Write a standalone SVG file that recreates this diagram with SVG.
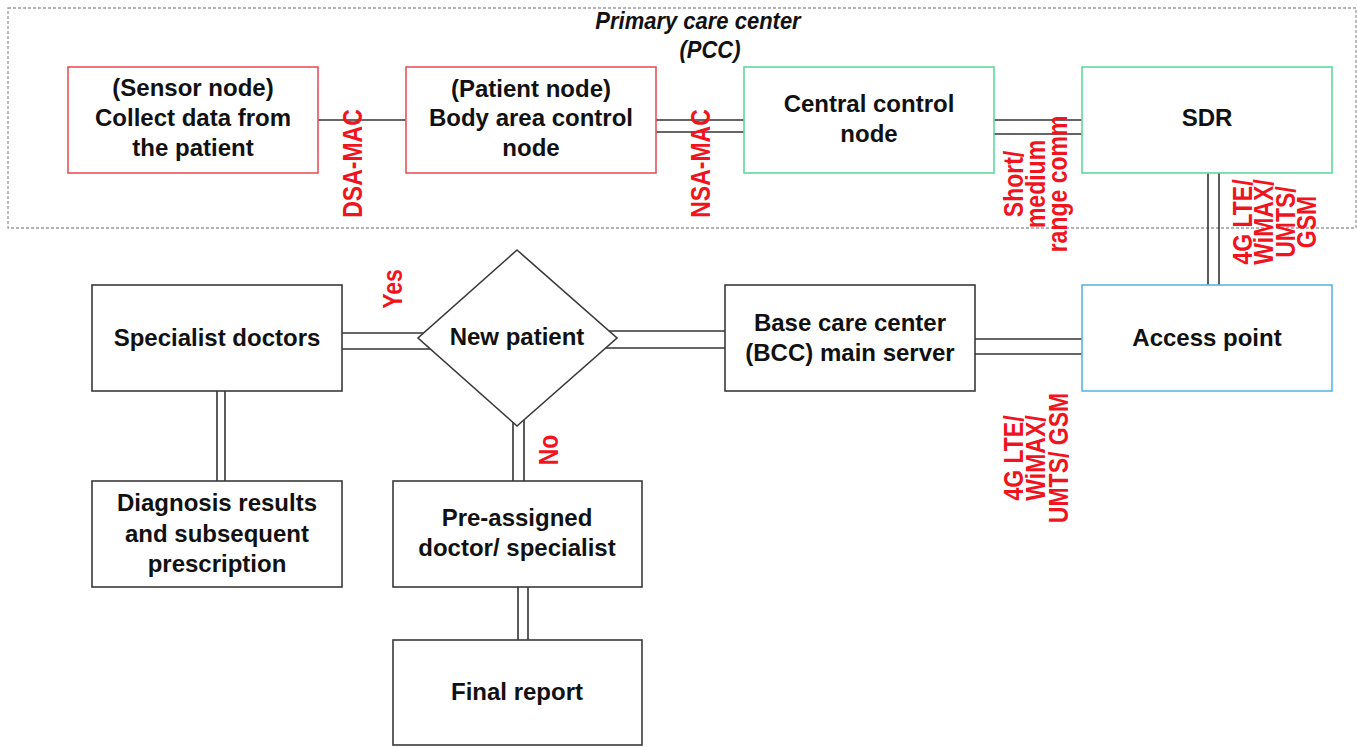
<svg xmlns="http://www.w3.org/2000/svg" width="1357" height="747" viewBox="0 0 1357 747">
<style>
.box{fill:#fff;stroke-width:1.6}
.red{stroke:#e8535a}
.green{stroke:#5fd99b}
.blue{stroke:#5ab6e8}
.black{stroke:#3a3a3a}
.t{font-family:"Liberation Sans",Arial,sans-serif;font-weight:bold;font-size:24px;fill:#111;text-anchor:middle}
.lbl{font-family:"Liberation Sans",Arial,sans-serif;font-weight:bold;font-size:23px;fill:#f0141e;text-anchor:middle}
.title{font-family:"Liberation Sans",Arial,sans-serif;font-weight:bold;font-style:italic;font-size:22px;fill:#111;text-anchor:middle}
.c{stroke:#333;stroke-width:1.6;fill:none}
</style>
<rect width="1357" height="747" fill="#fff"/>
<rect id="pcc" x="8" y="8" width="1348" height="220" fill="none" stroke="#9a9a9a" stroke-width="1.3" stroke-dasharray="3 2"/>
<text class="title" transform="translate(698,29) scale(1,1.1)">Primary care center</text>
<text class="title" transform="translate(710,58) scale(1,1.1)">(PCC)</text>

<g id="connectors">
<line class="c" x1="318" y1="120" x2="406" y2="120"/>
<line class="c" x1="656" y1="120" x2="744" y2="120"/>
<line class="c" x1="656" y1="132" x2="744" y2="132"/>
<line class="c" x1="994" y1="120" x2="1082" y2="120"/>
<line class="c" x1="994" y1="134" x2="1082" y2="134"/>
<line class="c" x1="1208" y1="173" x2="1208" y2="285"/>
<line class="c" x1="1219" y1="173" x2="1219" y2="285"/>
<line class="c" x1="975" y1="339" x2="1082" y2="339"/>
<line class="c" x1="975" y1="354" x2="1082" y2="354"/>
<line class="c" x1="600" y1="331" x2="725" y2="331"/>
<line class="c" x1="600" y1="348" x2="725" y2="348"/>
<line class="c" x1="342" y1="333" x2="440" y2="333"/>
<line class="c" x1="342" y1="349" x2="440" y2="349"/>
<line class="c" x1="513" y1="410" x2="513" y2="481"/>
<line class="c" x1="524" y1="410" x2="524" y2="481"/>
<line class="c" x1="217" y1="391" x2="217" y2="481"/>
<line class="c" x1="225" y1="391" x2="225" y2="481"/>
<line class="c" x1="518" y1="587" x2="518" y2="640"/>
<line class="c" x1="528" y1="587" x2="528" y2="640"/>
<text class="lbl" transform="translate(362,163.5) rotate(-90) scale(1,1.2)">DSA-MAC</text>
<text class="lbl" transform="translate(710,163.5) rotate(-90) scale(1,1.2)">NSA-MAC</text>
<text class="lbl" transform="translate(1023,184) rotate(-90) scale(1,1.2)"><tspan x="0" dy="0">Short/</tspan><tspan x="0" dy="18.3">medium</tspan><tspan x="0" dy="18.3">range comm</tspan></text>
<text class="lbl" transform="translate(1252,222) rotate(-90) scale(1,1.2)"><tspan x="0" dy="0">4G LTE/</tspan><tspan x="0" dy="17.8">WiMAX/</tspan><tspan x="0" dy="17.8">UMTS/</tspan><tspan x="0" dy="17.8">GSM</tspan></text>
<text class="lbl" transform="translate(1023,458) rotate(-90) scale(1,1.2)"><tspan x="0" dy="0">4G LTE/</tspan><tspan x="0" dy="18.6">WiMAX/</tspan><tspan x="0" dy="18.6">UMTS/ GSM</tspan></text>
<text class="lbl" transform="translate(402,289) rotate(-90) scale(1,1.2)">Yes</text>
<text class="lbl" transform="translate(558,450) rotate(-90) scale(1,1.2)">No</text>
</g>

<g id="sensor"><rect class="box red" x="68" y="67" width="250" height="106"/>
<text class="t" x="193" y="96">(Sensor node)</text><text class="t" x="193" y="126">Collect data from</text><text class="t" x="193" y="156">the patient</text></g>
<g id="patient"><rect class="box red" x="406" y="67" width="250" height="106"/>
<text class="t" x="531" y="97">(Patient node)</text><text class="t" x="531" y="126">Body area control</text><text class="t" x="531" y="156">node</text></g>
<g id="central"><rect class="box green" x="744" y="67" width="250" height="106"/>
<text class="t" x="869" y="112">Central control</text><text class="t" x="869" y="142">node</text></g>
<g id="sdr"><rect class="box green" x="1082" y="67" width="250" height="106"/>
<text class="t" x="1207" y="126">SDR</text></g>
<g id="access"><rect class="box blue" x="1082" y="285" width="250" height="106"/>
<text class="t" x="1207" y="346">Access point</text></g>
<g id="bcc"><rect class="box black" x="725" y="285" width="250" height="106"/>
<text class="t" x="850" y="331">Base care center</text><text class="t" x="850" y="361">(BCC) main server</text></g>
<g id="newpatient"><polygon class="box black" points="517,250 617,338 517,426 418,338"/>
<text class="t" x="517" y="345">New patient</text></g>
<g id="specialist"><rect class="box black" x="92" y="285" width="250" height="106"/>
<text class="t" x="217" y="346">Specialist doctors</text></g>
<g id="diagnosis"><rect class="box black" x="92" y="481" width="250" height="106"/>
<text class="t" x="217" y="511">Diagnosis results</text><text class="t" x="217" y="542">and subsequent</text><text class="t" x="217" y="572">prescription</text></g>
<g id="preassigned"><rect class="box black" x="393" y="481" width="249" height="106"/>
<text class="t" x="517" y="526">Pre-assigned</text><text class="t" x="517" y="556">doctor/ specialist</text></g>
<g id="final"><rect class="box black" x="393" y="640" width="249" height="105"/>
<text class="t" x="517" y="700">Final report</text></g>
</svg>
